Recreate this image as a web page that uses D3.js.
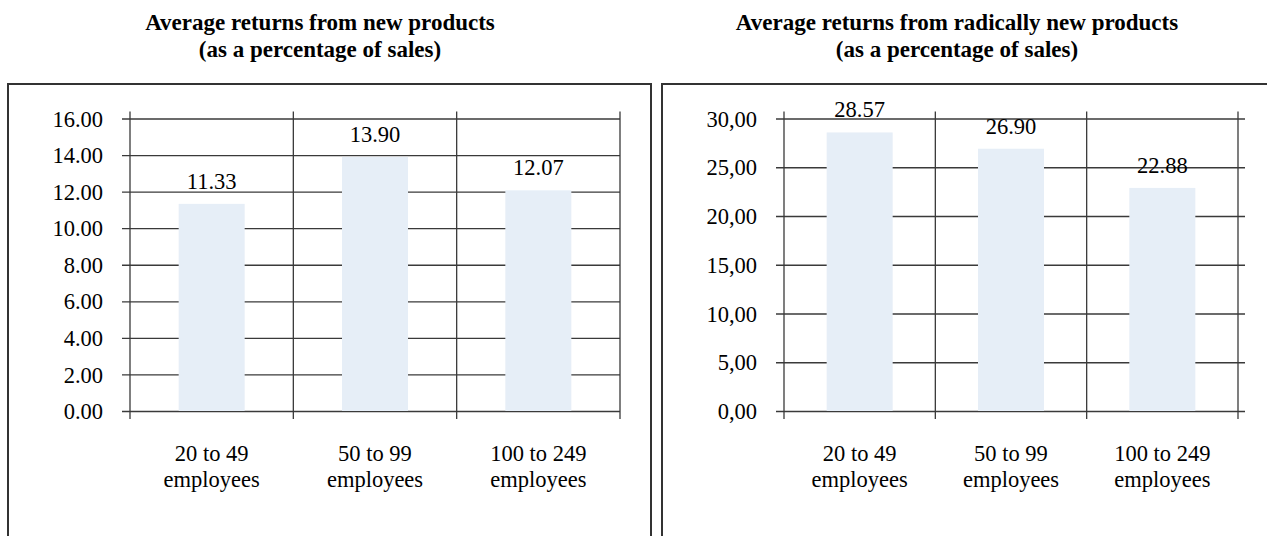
<!DOCTYPE html>
<html>
<head>
<meta charset="utf-8">
<script src="https://cdn.jsdelivr.net/npm/d3@7"></script>
<style>
  html, body { margin: 0; padding: 0; background: #fff; }
  svg { display: block; }
  text, tspan { font-family: "Liberation Serif", "Times New Roman", serif !important; fill: #000; }
</style>
</head>
<body>
<svg id="chart" width="1267" height="536"></svg>
<script>
// Firm size classes shared by both panels
const categories = ["20 to 49 employees", "50 to 99 employees", "100 to 249 employees"];

// Average returns from new products (% of sales)
const newProducts = [11.33, 13.90, 12.07];
const newTicks = [0, 2, 4, 6, 8, 10, 12, 14, 16];

// Average returns from radically new products (% of sales)
const radicalProducts = [28.57, 26.90, 22.88];
const radicalTicks = [0, 5, 10, 15, 20, 25, 30];

const panels = [
  {
    title: ["Average returns from new products", "(as a percentage of sales)"],
    values: newProducts, ticks: newTicks, max: 16,
    tickFormat: d => d.toFixed(2),
    box: { x: 8, w: 643 }, titleX: 320,
    plot: { x0: 130, x1: 620 }, outerTicks: false
  },
  {
    title: ["Average returns from radically new products", "(as a percentage of sales)"],
    values: radicalProducts, ticks: radicalTicks, max: 30,
    tickFormat: d => d.toFixed(2).replace(".", ","),
    box: { x: 662, w: 620 }, titleX: 957,
    plot: { x0: 784, x1: 1238 }, outerTicks: true
  }
];

const svg = d3.select("#chart");
const plotTop = 118.5, plotBottom = 411;
const lineColor = "#3a3a3a";
const fontFamily = "Liberation Serif, Times New Roman, serif";

panels.forEach(p => {
  const g = svg.append("g").attr("font-family", fontFamily);

  // Panel frame
  g.append("rect")
    .attr("x", p.box.x).attr("y", 84)
    .attr("width", p.box.w).attr("height", 470)
    .attr("fill", "none").attr("stroke", "#333").attr("stroke-width", 2);

  // Title
  g.append("text")
    .attr("x", p.titleX).attr("y", 30)
    .attr("text-anchor", "middle")
    .attr("font-family", fontFamily)
    .style("font-weight", "bold").style("font-size", "23px")
    .selectAll("tspan").data(p.title).join("tspan")
    .attr("x", p.titleX).attr("dy", (d, i) => i === 0 ? 0 : 27)
    .text(d => d);

  const x = d3.scaleBand().domain(categories).range([p.plot.x0, p.plot.x1]).padding(0);
  const y = d3.scaleLinear().domain([0, p.max]).range([plotBottom, plotTop]);

  // Horizontal gridlines with outward tick marks on the value axis
  const yAxis = d3.axisLeft(y).tickValues(p.ticks).tickFormat(p.tickFormat)
    .tickSize(-(p.plot.x1 - p.plot.x0 + (p.outerTicks ? 7 : 0)));
  const ya = g.append("g").attr("transform", `translate(${p.plot.x0},0)`).call(yAxis)
    .attr("font-family", fontFamily);
  ya.select(".domain").remove();
  ya.selectAll(".tick line").attr("stroke", lineColor).attr("stroke-width", 1.3).attr("x1", -8);
  ya.selectAll(".tick text").style("font-size", "22.5px").attr("x", -27).attr("dy", "0.34em");

  // Vertical category dividers that stick out above and below the plot
  const dividers = [p.plot.x0].concat(categories.map(c => x(c) + x.bandwidth()));
  g.append("g").selectAll("line").data(dividers).join("line")
    .attr("x1", d => d).attr("x2", d => d)
    .attr("y1", plotTop - 7).attr("y2", plotBottom + 8)
    .attr("stroke", lineColor).attr("stroke-width", 1.3);

  // Bars
  const barW = 66;
  g.append("g").selectAll("rect").data(p.values).join("rect")
    .attr("x", (d, i) => x(categories[i]) + x.bandwidth() / 2 - barW / 2)
    .attr("y", d => y(d))
    .attr("width", barW)
    .attr("height", d => plotBottom - y(d))
    .attr("fill", "#e6eef7");

  // Value labels above bars
  g.append("g").selectAll("text").data(p.values).join("text")
    .attr("x", (d, i) => x(categories[i]) + x.bandwidth() / 2)
    .attr("y", d => y(d) - 15)
    .attr("text-anchor", "middle")
    .style("font-size", "22.5px")
    .text(d => d.toFixed(2));

  // Category labels, two lines each
  g.append("g").selectAll("text").data(categories).join("text")
    .attr("text-anchor", "middle")
    .style("font-size", "22.5px")
    .each(function (c) {
      const cx = x(c) + x.bandwidth() / 2;
      const parts = c.split(" employees");
      const t = d3.select(this);
      t.append("tspan").attr("x", cx).attr("y", 461).text(parts[0]);
      t.append("tspan").attr("x", cx).attr("y", 487).text("employees");
    });
});
</script>
</body>
</html>
